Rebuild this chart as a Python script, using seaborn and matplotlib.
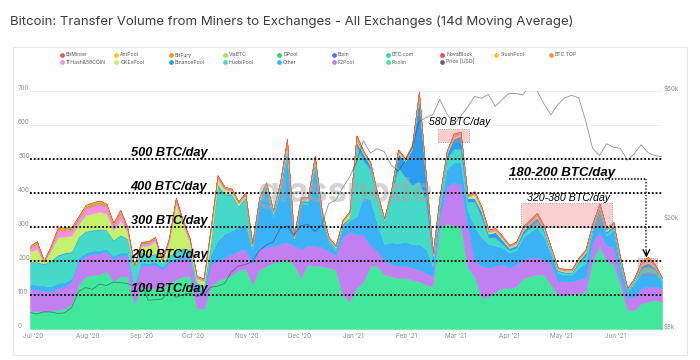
import numpy as np
import pandas as pd
import matplotlib
matplotlib.use("Agg")
import matplotlib.pyplot as plt
import matplotlib.dates as mdates
from matplotlib.patches import Rectangle
from matplotlib.ticker import NullLocator
import seaborn as sns

# ---------------- data (14d MA, BTC/day), one value every 4 days ----------------
dates = pd.date_range("2020-06-29", periods=92, freq="4D")

poolin = [55, 53, 52, 55, 57, 60, 75, 130, 155, 158,
          160, 170, 140, 155, 155, 72, 125, 120, 120, 120,
          135, 145, 155, 155, 62, 58, 125, 142, 150, 158,
          172, 178, 130, 175, 185, 195, 200, 205, 190, 150,
          190, 185, 185, 180, 175, 100, 80, 120, 140, 185,
          185, 160, 155, 150, 150, 145, 140, 130, 125, 300,
          310, 305, 300, 180, 155, 90, 95, 110, 120, 120,
          125, 150, 155, 160, 160, 130, 100, 100, 105, 105,
          110, 200, 245, 200, 190, 130, 55, 55, 75, 80,
          85, 80]
f2pool = [63, 62, 60, 55, 63, 65, 65, 70, 60, 62,
          62, 58, 65, 60, 60, 48, 65, 65, 70, 55,
          60, 55, 55, 50, 48, 42, 65, 58, 60, 62,
          58, 57, 60, 60, 55, 50, 50, 50, 55, 85,
          55, 60, 55, 50, 40, 170, 205, 160, 135, 60,
          45, 40, 35, 35, 35, 35, 35, 35, 30, 30,
          110, 125, 125, 120, 45, 95, 85, 75, 70, 60,
          65, 55, 55, 50, 45, 60, 40, 40, 35, 40,
          40, 55, 40, 45, 50, 20, 35, 40, 45, 45,
          40, 40]
other = [14, 15, 16, 15, 15, 13, 10, 10, 10, 10,
         10, 8, 10, 10, 10, 10, 8, 8, 8, 8,
         8, 8, 8, 10, 10, 12, 30, 60, 70, 70,
         70, 75, 45, 135, 170, 85, 150, 255, 13, 135,
         120, 235, 90, 25, 15, 30, 35, 50, 115, 135,
         80, 50, 65, 67, 72, 70, 75, 70, 30, 30,
         50, 60, 65, 50, 100, 85, 70, 60, 50, 45,
         42, 65, 75, 90, 65, 30, 25, 20, 20, 35,
         45, 35, 60, 30, 50, 30, 20, 40, 45, 45,
         40, 20]
huobipool = [64, 66, 62, 75, 80, 84, 75, 60, 60, 60,
             60, 54, 45, 50, 40, 50, 27, 22, 22, 9,
             12, 17, 17, 17, 15, 13, 25, 160, 115, 105,
             60, 75, 5, 5, 5, 5, 10, 10, 4, 4,
             7, 10, 6, 5, 5, 5, 5, 210, 105, 90,
             75, 65, 140, 225, 190, 175, 185, 145, 20, 20,
             30, 40, 40, 25, 75, 60, 20, 25, 10, 7,
             6, 10, 15, 18, 15, 8, 5, 5, 5, 15,
             20, 5, 7, 7, 8, 10, 4, 5, 13, 15,
             10, 5]
binancepool = [2, 2, 2, 2, 3, 3, 3, 2, 3, 2,
               2, 2, 2, 2, 2, 2, 2, 2, 2, 2,
               2, 3, 3, 3, 2, 2, 5, 5, 3, 3,
               2, 3, 3, 3, 5, 5, 10, 10, 4, 4,
               5, 5, 4, 3, 3, 5, 3, 10, 20, 12,
               5, 3, 6, 40, 45, 105, 245, 60, 10, 5,
               15, 30, 38, 10, 10, 15, 10, 15, 12, 6,
               8, 10, 10, 10, 7, 4, 3, 3, 3, 5,
               10, 5, 6, 5, 7, 8, 2, 3, 8, 10,
               5, 2]
okexpool = [30, 37, 4, 28, 52, 47, 47, 38, 47, 48,
            51, 48, 28, 43, 18, 1, 18, 28, 36, 4,
            38, 142, 67, 20, 11, 13, 35, 15, 12, 7,
            6, 5, 3, 3, 4, 3, 4, 5, 2, 3,
            3, 5, 3, 2, 2, 5, 12, 5, 3, 3,
            3, 2, 3, 4, 4, 4, 7, 4, 3, 3,
            3, 5, 4, 3, 10, 5, 4, 4, 4, 3,
            4, 4, 4, 5, 4, 3, 3, 3, 3, 3,
            3, 4, 4, 3, 3, 4, 1, 2, 4, 5,
            3, 1]
thash58 = [10, 15, 2, 10, 20, 18, 17, 15, 20, 22,
           23, 20, 15, 20, 10, 2, 7, 7, 8, 2,
           7, 10, 10, 7, 4, 5, 7, 7, 5, 5,
           4, 4, 3, 3, 4, 3, 4, 17, 3, 3,
           4, 5, 3, 3, 3, 3, 3, 5, 3, 3,
           3, 3, 3, 4, 3, 3, 6, 4, 3, 3,
           3, 5, 4, 3, 5, 5, 4, 4, 4, 3,
           4, 4, 4, 4, 4, 3, 2, 2, 2, 3,
           3, 4, 4, 3, 3, 3, 1, 2, 4, 5,
           3, 1]
btctop = [2.1, 2.8, 0.7, 1.8, 2.8, 2.8, 2.8, 2.5, 3.5, 3.5,
          3.5, 2.8, 2.5, 3.5, 1.8, 0.7, 1.4, 1.8, 1.4, 0.7,
          1.4, 2.1, 1.8, 1.4, 1.0, 1.0, 1.4, 1.8, 1.0, 0.7,
          1.0, 1.0, 1.0, 1.0, 1.0, 1.0, 1.4, 2.8, 1.0, 1.0,
          1.0, 1.8, 1.0, 0.7, 0.7, 0.7, 1.0, 3.5, 1.0, 0.7,
          1.0, 0.7, 0.7, 1.0, 1.0, 1.0, 2.1, 1.4, 1.0, 1.0,
          1.0, 1.8, 1.4, 1.0, 1.8, 1.8, 1.4, 1.4, 1.4, 1.0,
          1.0, 1.4, 1.4, 1.8, 1.0, 1.0, 1.0, 1.0, 1.0, 1.4,
          1.4, 1.4, 1.4, 1.0, 1.4, 1.0, 0.7, 1.0, 2.1, 2.5,
          1.4, 0.4]
slushpool = [0.6, 0.8, 0.2, 0.5, 0.8, 0.8, 0.8, 0.7, 1.0, 1.0,
             1.0, 0.8, 0.7, 1.0, 0.5, 0.2, 0.4, 0.5, 0.4, 0.2,
             0.4, 0.6, 0.5, 0.4, 0.3, 0.3, 0.4, 0.5, 0.3, 0.2,
             0.3, 0.3, 0.3, 0.3, 0.3, 0.3, 0.4, 0.8, 0.3, 0.3,
             0.3, 0.5, 0.3, 0.2, 0.2, 0.2, 0.3, 1.0, 0.3, 0.2,
             0.3, 0.2, 0.2, 0.3, 0.3, 0.3, 0.6, 0.4, 0.3, 0.3,
             0.3, 0.5, 0.4, 0.3, 0.5, 0.5, 0.4, 0.4, 0.4, 0.3,
             0.3, 0.4, 0.4, 0.5, 0.3, 0.3, 0.3, 0.3, 0.3, 0.4,
             0.4, 0.4, 0.4, 0.3, 0.4, 0.3, 0.2, 0.3, 0.6, 0.7,
             0.4, 0.1]
novablock = [0.3, 0.3, 0.3, 0.3, 0.3, 0.3, 0.3, 0.3, 0.3, 0.3,
             0.3, 0.3, 0.3, 0.3, 0.3, 0.3, 0.3, 0.3, 0.3, 0.3,
             0.3, 0.3, 0.3, 0.3, 0.3, 0.3, 0.3, 0.3, 0.3, 0.3,
             0.3, 0.3, 0.2, 0.2, 0.2, 0.2, 0.2, 0.2, 0.2, 0.2,
             0.2, 0.2, 0.2, 0.2, 0.2, 0.2, 0.2, 0.2, 0.2, 0.2,
             0.2, 0.2, 0.2, 0.2, 0.2, 0.2, 0.2, 0.2, 0.2, 0.2,
             0.2, 0.2, 0.2, 0.2, 0.2, 0.2, 0.2, 0.2, 0.2, 0.2,
             0.2, 0.2, 0.2, 0.2, 0.2, 0.2, 0.2, 0.2, 0.2, 0.2,
             0.2, 0.2, 0.2, 0.2, 0.2, 0.2, 0.2, 0.2, 0.2, 0.2,
             0.2, 0.2]
btccom = [0.2, 0.2, 0.2, 0.2, 0.2, 0.2, 0.2, 0.2, 0.2, 0.2,
          0.2, 0.2, 0.2, 0.2, 0.2, 0.2, 0.2, 0.2, 0.2, 0.2,
          0.2, 0.2, 0.2, 0.2, 0.2, 0.2, 0.2, 0.2, 0.2, 0.2,
          0.2, 0.2, 0.1, 0.1, 0.1, 0.1, 0.1, 0.1, 0.1, 0.1,
          0.1, 0.1, 0.1, 0.1, 0.1, 0.1, 0.1, 0.1, 0.1, 0.1,
          0.1, 0.1, 0.1, 0.1, 0.1, 0.1, 0.1, 0.1, 0.1, 0.1,
          0.1, 0.1, 0.1, 0.1, 0.1, 0.1, 0.1, 0.1, 0.1, 0.1,
          0.1, 0.1, 0.1, 0.1, 0.1, 0.1, 0.1, 0.1, 0.1, 0.1,
          0.1, 0.1, 0.1, 0.1, 0.1, 0.1, 0.1, 0.1, 0.1, 0.1,
          0.1, 0.1]
bixin = [0.1, 0.1, 0.1, 0.1, 0.1, 0.1, 0.1, 0.1, 0.1, 0.1,
         0.1, 0.1, 0.1, 0.1, 0.1, 0.1, 0.1, 0.1, 0.1, 0.1,
         0.1, 0.1, 0.1, 0.1, 0.1, 0.1, 0.1, 0.1, 0.1, 0.1,
         0.1, 0.1, 0.1, 0.1, 0.1, 0.1, 0.1, 0.1, 0.1, 0.1,
         0.1, 0.1, 0.1, 0.1, 0.1, 0.1, 0.1, 0.1, 0.1, 0.1,
         0.1, 0.1, 0.1, 0.1, 0.1, 0.1, 0.1, 0.1, 0.1, 0.1,
         0.1, 0.1, 0.1, 0.1, 0.1, 0.1, 0.1, 0.1, 0.1, 0.1,
         0.1, 0.1, 0.1, 0.1, 0.1, 0.1, 0.1, 0.1, 0.1, 0.1,
         0.1, 0.1, 0.1, 0.1, 0.1, 0.1, 0.1, 0.1, 0.1, 0.1,
         0.1, 0.1]
dpool = [0.1, 0.1, 0.1, 0.1, 0.1, 0.1, 0.1, 0.1, 0.1, 0.1,
         0.1, 0.1, 0.1, 0.1, 0.1, 0.1, 0.1, 0.1, 0.1, 0.1,
         0.1, 0.1, 0.1, 0.1, 0.1, 0.1, 0.1, 0.1, 0.1, 0.1,
         0.1, 0.1, 0.1, 0.1, 0.1, 0.1, 0.1, 0.1, 0.1, 0.1,
         0.1, 0.1, 0.1, 0.1, 0.1, 0.1, 0.1, 0.1, 0.1, 0.1,
         0.1, 0.1, 0.1, 0.1, 0.1, 0.1, 0.1, 0.1, 0.1, 0.1,
         0.1, 0.1, 0.1, 0.1, 0.1, 0.1, 0.1, 0.1, 0.1, 0.1,
         0.1, 0.1, 0.1, 0.1, 0.1, 0.1, 0.1, 0.1, 0.1, 0.1,
         0.1, 0.1, 0.1, 0.1, 0.1, 0.1, 0.1, 0.1, 0.1, 0.1,
         0.1, 0.1]
viabtc = [0.4, 0.4, 0.4, 0.4, 0.4, 0.4, 0.4, 0.4, 0.4, 0.4,
          0.4, 0.4, 0.4, 0.4, 0.4, 0.4, 0.4, 0.4, 0.4, 0.4,
          0.4, 0.4, 0.4, 0.4, 0.4, 0.4, 0.4, 0.4, 0.4, 0.4,
          0.4, 0.4, 0.1, 0.1, 0.1, 0.1, 0.1, 0.1, 0.1, 0.1,
          0.1, 0.1, 0.1, 0.1, 0.1, 0.1, 0.1, 0.1, 0.1, 0.1,
          0.1, 0.1, 0.1, 0.1, 0.1, 0.1, 0.1, 0.1, 0.1, 0.1,
          0.1, 0.1, 0.1, 0.1, 0.1, 0.1, 0.1, 0.1, 0.1, 0.1,
          0.1, 0.1, 0.1, 0.1, 0.1, 0.1, 0.1, 0.1, 0.1, 0.1,
          0.1, 0.1, 0.1, 0.1, 0.1, 0.1, 0.1, 0.1, 0.1, 0.1,
          0.1, 0.1]
bitfury = [0.9, 1.2, 0.3, 0.8, 1.2, 1.2, 1.2, 1.0, 1.5, 1.5,
           1.5, 1.2, 1.0, 1.5, 0.8, 0.3, 0.6, 0.8, 0.6, 0.3,
           0.6, 0.9, 0.8, 0.6, 0.5, 0.5, 0.6, 0.8, 0.5, 0.3,
           0.5, 0.5, 0.5, 0.5, 0.5, 0.5, 0.6, 1.2, 0.5, 0.5,
           0.5, 0.8, 0.5, 0.3, 0.3, 0.3, 0.5, 1.5, 0.5, 0.3,
           0.5, 0.3, 0.3, 0.5, 0.5, 0.5, 0.9, 0.6, 0.5, 0.5,
           0.5, 0.8, 0.6, 0.5, 0.8, 0.8, 0.6, 0.6, 0.6, 0.5,
           0.5, 0.6, 0.6, 0.8, 0.5, 0.5, 0.5, 0.5, 0.5, 0.6,
           0.6, 0.6, 0.6, 0.5, 0.6, 0.5, 0.3, 0.5, 0.9, 1.0,
           0.6, 0.2]
antpool = [1.8, 2.4, 0.6, 1.5, 2.4, 2.4, 2.4, 2.1, 3.0, 3.0,
           3.0, 2.4, 2.1, 3.0, 1.5, 0.6, 1.2, 1.5, 1.2, 0.6,
           1.2, 1.8, 1.5, 1.2, 0.9, 0.9, 1.2, 1.5, 0.9, 0.6,
           0.9, 0.9, 0.9, 0.9, 0.9, 0.9, 1.2, 2.4, 0.9, 0.9,
           0.9, 1.5, 0.9, 0.6, 0.6, 0.6, 0.9, 3.0, 0.9, 0.6,
           0.9, 0.6, 0.6, 0.9, 0.9, 0.9, 1.8, 1.2, 0.9, 0.9,
           0.9, 1.5, 1.2, 0.9, 1.5, 1.5, 1.2, 1.2, 1.2, 0.9,
           0.9, 1.2, 1.2, 1.5, 0.9, 0.9, 0.9, 0.9, 0.9, 1.2,
           1.2, 1.2, 1.2, 0.9, 1.2, 0.9, 0.6, 0.9, 1.8, 2.1,
           1.2, 0.3]
bitminter = [0.2, 0.2, 0.2, 0.2, 0.2, 0.2, 0.2, 0.2, 0.2, 0.2,
             0.2, 0.2, 0.2, 0.2, 0.2, 0.2, 0.2, 0.2, 0.2, 0.2,
             0.2, 0.2, 0.2, 0.2, 0.2, 0.2, 0.2, 0.2, 0.2, 0.2,
             0.2, 0.2, 0.1, 0.1, 0.1, 0.1, 0.1, 0.1, 0.1, 0.1,
             0.1, 0.1, 0.1, 0.1, 0.1, 0.1, 0.1, 0.1, 0.1, 0.1,
             0.1, 0.1, 0.1, 0.1, 0.1, 0.1, 0.1, 0.1, 0.1, 0.1,
             0.1, 0.1, 0.1, 0.1, 0.1, 0.1, 0.1, 0.1, 0.1, 0.1,
             0.1, 0.1, 0.1, 0.1, 0.1, 0.1, 0.1, 0.1, 0.1, 0.1,
             0.1, 0.1, 0.1, 0.1, 0.1, 0.1, 0.1, 0.1, 0.1, 0.1,
             0.1, 0.1]
price_usd = [9190, 9080, 9250, 9240, 9130, 9170, 9600, 11000, 11350, 11200,
             11700, 11560, 11900, 11850, 11750, 11500, 11900, 10200, 10250, 10300,
             10950, 10450, 10700, 10850, 10550, 10650, 11400, 11500, 11750, 12950,
             13650, 13800, 14150, 15500, 16300, 16700, 18700, 19150, 17700, 19200,
             19350, 18250, 19250, 23100, 23800, 26400, 28900, 32800, 39400, 35500,
             36800, 35900, 32100, 30400, 33100, 36900, 46200, 47900, 49100, 55900,
             49700, 45200, 48400, 52300, 57300, 56400, 58300, 52700, 55900, 58900,
             58700, 58100, 63500, 60300, 53800, 49100, 53500, 56700, 57800, 56700,
             46700, 37000, 34700, 38400, 37300, 36900, 33400, 35300, 38100, 35600,
             34700, 34400]

legend_row1 = ["BitMinter", "AntPool", "BitFury", "ViaBTC", "DPool", "Bixin",
               "BTC.com", "NovaBlock", "SlushPool", "BTC.TOP"]
legend_row2 = ["1THash&58COIN", "OKExPool", "BinancePool", "HuobiPool", "Other",
               "F2Pool", "Poolin", "Price [USD]"]
left_ticks = [0, 100, 200, 300, 400, 500, 600, 700]
price_ticks = [8000, 20000, 60000]
price_tick_labels = ["$8k", "$20k", "$60k"]
level_lines = [500, 400, 300, 200, 100]

COL = {
    "BitMinter": "#f2525e", "AntPool": "#ffc21a", "BitFury": "#f7931a",
    "ViaBTC": "#a7e64a", "DPool": "#20d673", "Bixin": "#5271f5",
    "BTC.com": "#2ed3b8", "NovaBlock": "#f5455f", "SlushPool": "#f7c23a",
    "BTC.TOP": "#fd8c3c", "1THash&58COIN": "#f58fe6", "OKExPool": "#c5f26a",
    "BinancePool": "#2a9df0", "HuobiPool": "#45dac8", "Other": "#3ab2f5",
    "F2Pool": "#c27ff2", "Poolin": "#41e79b", "Price [USD]": "#666666",
}

stack_names = ["Poolin", "F2Pool", "Other", "HuobiPool", "BinancePool", "OKExPool",
               "1THash&58COIN", "BTC.TOP", "SlushPool", "NovaBlock", "BTC.com",
               "Bixin", "DPool", "ViaBTC", "BitFury", "AntPool", "BitMinter"]
stack_vals = [poolin, f2pool, other, huobipool, binancepool, okexpool, thash58,
              btctop, slushpool, novablock, btccom, bixin, dpool, viabtc,
              bitfury, antpool, bitminter]

# ---------------- figure ----------------
sns.set_theme(style="white")
plt.rcParams["font.family"] = ["Inter", "DejaVu Sans"]

W, H = 700, 360
fig = plt.figure(figsize=(7, 3.6), dpi=100)
fig.patch.set_facecolor("white")

ax = fig.add_axes([30 / W, 1 - 329 / H, (662 - 30) / W, (329 - 91) / H])
polys = ax.stackplot(dates, *stack_vals, colors=[COL[n] for n in stack_names],
                     linewidth=0)
for p, n in zip(polys, stack_names):
    p.set_edgecolor(COL[n])
    p.set_linewidth(0.3)

ax.set_xlim(dates[0], dates[-1])
ax.set_ylim(0, 700)
ax.set_yticks(left_ticks)
ax.set_yticklabels([str(t) for t in left_ticks])
ax.yaxis.grid(True, color="#ededed", lw=0.6)
ax.set_axisbelow(True)
ax.tick_params(axis="y", length=0, pad=8.6, labelsize=4.5, labelcolor="#8c8c8c")
for lab in ax.get_yticklabels():
    lab.set_ha("left")
    lab.set_va("bottom")

months = pd.date_range("2020-07-01", "2021-06-01", freq="MS")
ax.set_xticks(months)
ax.set_xticklabels([m.strftime("%b '%y") for m in months])
ax.tick_params(axis="x", length=0, pad=3, labelsize=4.5, labelcolor="#8c8c8c")
for s in ax.spines.values():
    s.set_visible(False)

# level lines and annotations
dot = (0, (1, 1.1))
ax.hlines(level_lines, dates[0], dates[-1], colors="black", linestyles=[dot],
          lw=1.3, zorder=5)
ann = dict(family=["Liberation Sans", "DejaVu Sans"], color="black", zorder=6)
for v in level_lines:
    ax.text(pd.Timestamp("2020-08-26"), v + 9, f"{v} BTC/day", fontsize=9.2,
            fontweight="bold", fontstyle="italic", va="baseline", **ann)

ax.text(pd.Timestamp("2021-04-01"), 450, "180-200 BTC/day", fontsize=9.5,
        fontweight="bold", fontstyle="italic", va="baseline", **ann)
ax.hlines(441, pd.Timestamp("2021-04-01"), pd.Timestamp("2021-06-19"),
          colors="black", linestyles=[dot], lw=1.1, zorder=5)
ax.vlines(pd.Timestamp("2021-06-19"), 222, 441, colors="#333333",
          linestyles=[dot], lw=1.1, zorder=5)
ax.annotate("", xy=(pd.Timestamp("2021-06-19"), 210),
            xytext=(pd.Timestamp("2021-06-19"), 228),
            arrowprops=dict(arrowstyle="->", color="black", lw=0.9,
                            shrinkA=0, shrinkB=0), zorder=6)

ax.text(pd.Timestamp("2021-02-14"), 600, "580 BTC/day", fontsize=7.6,
        fontstyle="italic", va="baseline", **ann)
ax.text(pd.Timestamp("2021-04-11"), 376, "320-380 BTC/day", fontsize=7.7,
        fontstyle="italic", va="baseline", **ann)

boxc = (240 / 255, 120 / 255, 120 / 255, 0.35)
for start, end, lo, hi in [("2021-02-19", "2021-03-09", 550, 588),
                           ("2021-04-08", "2021-05-30", 300, 372),
                           ("2021-06-14", "2021-06-25", 159, 208)]:
    x0 = mdates.date2num(pd.Timestamp(start))
    x1 = mdates.date2num(pd.Timestamp(end))
    ax.add_patch(Rectangle((x0, lo), x1 - x0, hi - lo, facecolor=boxc,
                           edgecolor="#8a8a8a", lw=0.6, linestyle=":", zorder=4))

# price on log axis
ax2 = ax.twinx()
sns.lineplot(x=dates, y=price_usd, ax=ax2, color="#3a3a3a", lw=0.6, alpha=0.55)
ax2.set_yscale("log")
ax2.set_ylim(8000, 60000)
ax2.yaxis.set_minor_locator(NullLocator())
ax2.set_yticks(price_ticks)
ax2.set_yticklabels(price_tick_labels)
ax2.tick_params(axis="y", length=0, pad=1, labelsize=4.5, labelcolor="#8c8c8c")
for lab in ax2.get_yticklabels():
    lab.set_va("bottom")
ax2.set_ylabel("")
ax2.set_xlabel("")
ax.set_xlabel("")
for s in ax2.spines.values():
    s.set_visible(False)
ax2.grid(False)

# panel border
fig.add_artist(Rectangle((13 / W, 1 - 355 / H), (687 - 13) / W, (355 - 47) / H,
                         transform=fig.transFigure, fill=False, ec="#e6e6e6", lw=0.8))

# title
fig.text(10 / W, 1 - 22 / H,
         "Bitcoin: Transfer Volume from Miners to Exchanges - All Exchanges (14d Moving Average)",
         fontsize=9.5, color="#3d3d3d", va="center", ha="left")

# legend
for row, names in [(55, legend_row1), (62, legend_row2)]:
    for c, name in enumerate(names):
        x = 62 + 54.3 * c
        fig.add_artist(plt.Line2D([x / W], [1 - row / H], marker="o", ms=2.4,
                                  color=COL[name], lw=0, transform=fig.transFigure))
        fig.text((x + 4) / W, 1 - row / H, name, fontsize=3.7, color="#555555",
                 va="center", ha="left")

# watermark
fig.text(345 / W, 1 - 193 / H, "glassnode", fontsize=25, color="#a8a8a8",
         alpha=0.5, ha="center", va="center", fontweight="bold", zorder=20)

fig.savefig("out.png", dpi=100)
